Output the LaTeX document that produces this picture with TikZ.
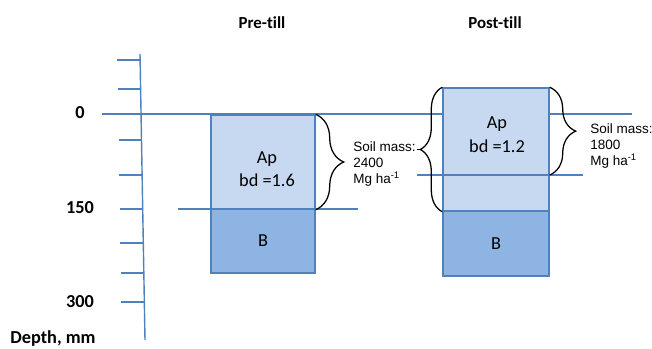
\documentclass[tikz,border=0pt]{standalone}
\usepackage{fontspec}
\setmainfont{Carlito}[Ligatures=NoCommon]
\newfontfamily\arialfont{Liberation Sans}
\usetikzlibrary{decorations.pathreplacing}
\definecolor{soilline}{RGB}{79,129,189}
\definecolor{apfill}{RGB}{198,217,241}
\definecolor{bfill}{RGB}{142,180,227}
\tikzset{every node/.style={inner sep=0pt}}
\tikzset{layer/.style={rectangle,draw=soilline,line width=1pt,font=\fontsize{13}{15}\selectfont}}
\tikzset{rule/.style={draw=soilline,line width=1pt}}
\tikzset{brc/.style={decorate,decoration={brace,amplitude=#1},line width=0.9pt}}
\tikzset{mass/.style={align=left,anchor=west,font=\arialfont\fontsize{9.6}{11.2}\selectfont}}
\tikzset{depth/.style={font=\bfseries\fontsize{13}{15}\selectfont}}

\begin{document}
\begin{tikzpicture}[x=0.025cm,y=-0.025cm]
      \useasboundingbox (0,0) rectangle (652,349);
      % depth axis
      \draw[rule] (140,54) -- (145,340);
      \foreach \y in {60,89,140,175,209,243,273,302}
        \draw[rule] ({117+5*(\y-54)/286},\y) -- ({140+5*(\y-54)/286},\y);
      \node[depth] (d0) at (80,113) {0};
      \node[depth] (d150) at (80,208) {150};
      \node[depth] (d300) at (80,302) {300};
      \node[depth] (dlab) at (53,339) {Depth, mm};
      % soil surface
      \draw[rule] (102,114) -- (632,114);
      \draw[rule] (178,209) -- (358,209);
      % pre-till profile
      \node[font=\bfseries\fontsize{12}{14}\selectfont] (pre) at (262,23) {Pre-till};
      \node[layer,fill=apfill,minimum width=2.6cm,minimum height=2.35cm] (preAp) at (263,162) {};
      \node[layer,fill=bfill,minimum width=2.6cm,minimum height=1.6cm] (preB) at (263,241) {B};
      \node[align=center,font=\fontsize{13}{16}\selectfont] (preApText) at (267,169) {Ap\\ bd =1.6};
      % post-till profile
      \node[font=\bfseries\fontsize{12}{14}\selectfont] (post) at (495,23) {Post-till};
      \node[layer,fill=apfill,minimum width=2.65cm,minimum height=3.075cm] (postAp) at (496,149.5) {};
      \node[layer,fill=bfill,minimum width=2.65cm,minimum height=1.625cm] (postB) at (496,243.5) {B};
      \node[align=center,font=\fontsize{13}{17}\selectfont] (postApText) at (497,135) {Ap\\ bd =1.2};
      \coordinate (cutL) at (417,175);
      \coordinate (cutR) at (583,175);
      \draw[rule] (cutL) -- (cutR);
      % braces
      \draw[brc=0.7cm] (preAp.north east) -- (preAp.south east);
      \draw[brc=0.55cm] (postAp.south west) -- (postAp.north west);
      \draw[brc=0.65cm] (postAp.north east) -- (postAp.east |- cutR);
      \coordinate (postTip) at ([xshift=-0.55cm]postAp.west);
      \node[mass] (massPre) at (353,164) {Soil mass:\\2400\\Mg ha\textsuperscript{-1}};
      \node[mass] (massPost) at (590,146) {Soil mass:\\1800\\Mg ha\textsuperscript{-1}};
      \draw[line width=0.9pt] (massPre.east |- postTip) ++(1,0) -- (postTip);
\end{tikzpicture}
\end{document}
